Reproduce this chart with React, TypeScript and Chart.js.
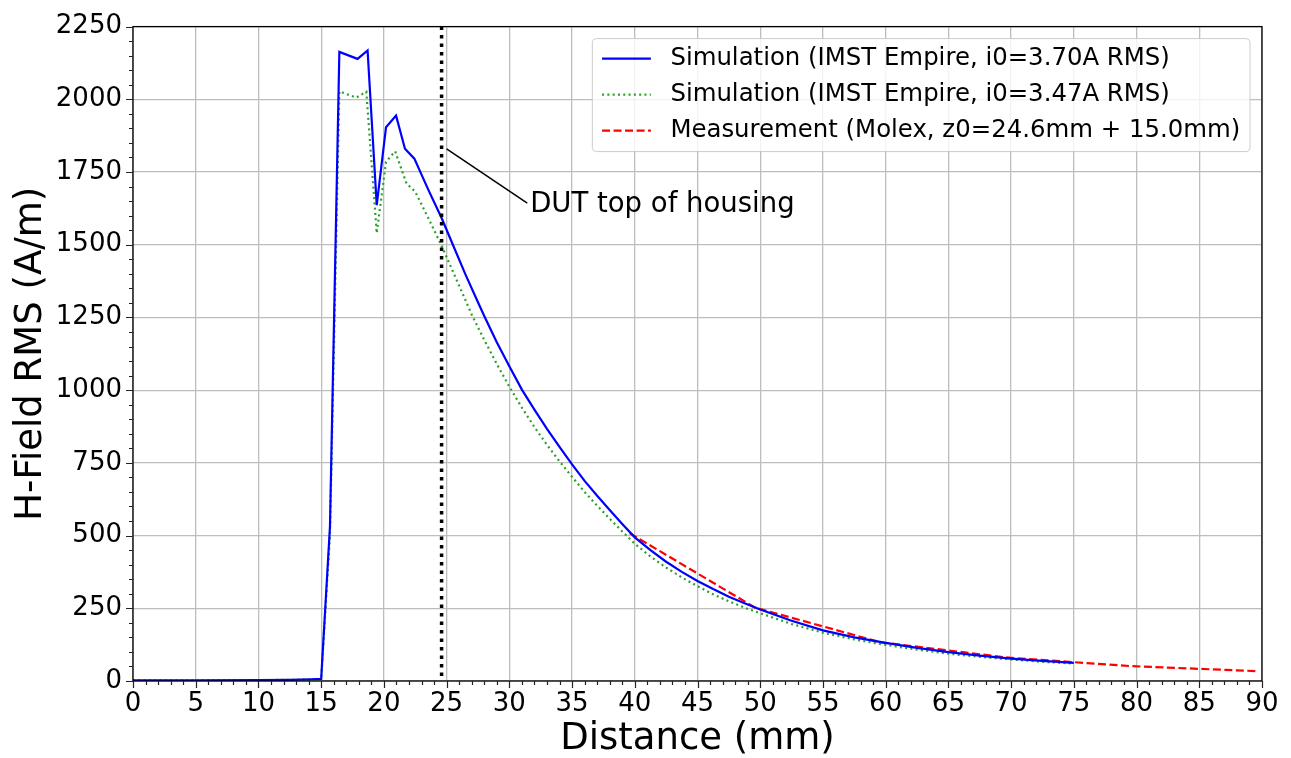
import React, { useEffect, useRef } from "react";
import { Chart, registerables } from "chart.js";

Chart.register(...registerables);

// ---------- data ----------
const sim370X = [0, 5, 10, 12.5, 14.2, 15.0, 15.7, 16.45, 17.9, 18.7, 19.43, 20.17, 20.97, 21.68, 22.43, 23.5, 24.6, 25.5, 26.5, 27.5, 28.0, 29, 30, 31, 32, 33, 34, 35, 36, 37, 38, 39, 40, 41.25, 42.5, 43.75, 45, 46.25, 47.5, 48.75, 50, 52.5, 55, 57.5, 60, 62.5, 65, 67.5, 70, 72.5, 75];
const sim370Y = [2, 2, 3, 4, 6, 7, 530, 2163, 2139, 2168, 1636, 1904, 1944, 1830, 1796, 1693, 1592, 1500, 1398, 1302, 1255, 1165, 1082, 1002, 933, 867, 805, 745, 688, 637, 588, 540, 494, 450, 410, 375, 344, 316, 290, 267, 246, 207, 174, 150, 131, 114, 99, 87, 77, 69, 62];

const sim347X = [0, 5, 10, 12.5, 14.2, 15.0, 15.7, 16.45, 17.8, 18.6, 19.43, 20.17, 20.9, 21.8, 22.5, 23.5, 24.6, 25.5, 26.5, 27, 28, 29, 30, 31, 32, 33, 34, 35, 36, 37, 38, 39, 40, 41.25, 42.5, 43.75, 45, 46.25, 47.5, 48.75, 50, 52.5, 55, 57.5, 60, 62.5, 65, 67.5, 70, 72.5, 75];
const sim347Y = [2, 2, 3, 4, 5, 6, 500, 2027, 2006, 2026, 1540, 1785, 1821, 1711, 1682, 1595, 1497, 1408, 1310, 1260, 1173, 1090, 1012, 940, 873, 812, 755, 702, 650, 603, 558, 514, 472, 428, 390, 356, 326, 298, 274, 252, 233, 196, 166, 143, 124, 108, 94, 83, 74, 66, 60];

const measX = [39.6, 49.6, 59.6, 69.6, 79.6, 89.6];
const measY = [508, 252, 133, 81, 51, 34];

const seriesLabels = [
  "Simulation (IMST Empire, i0=3.70A RMS)",
  "Simulation (IMST Empire, i0=3.47A RMS)",
  "Measurement (Molex, z0=24.6mm + 15.0mm)",
];

const xTickStep = 5;
const xMinorStep = 1;
const yTickStep = 250;
const yMinorStep = 50;
const xMin = 0, xMax = 90, yMin = 0, yMax = 2250;

const dutX = 24.6;
const annotText = "DUT top of housing";
const annotFrom = { x: 25.0, y: 1830 };
const annotTo = { x: 31.43, y: 1643 };
const annotTextPos = { x: 31.66, y: 1637 };

const xTitle = "Distance (mm)";
const yTitle = "H-Field RMS (A/m)";

const FONT = "'DejaVu Sans', sans-serif";
const BLUE = "#0000ff";
const GREEN = "#2ca02c";
const RED = "#ff0000";

const toPts = (xs: number[], ys: number[]) => xs.map((x, i) => ({ x, y: ys[i] }));

const overlayPlugin = {
  id: "overlay",
  afterDatasetsDraw(chart: any) {
    const { ctx, chartArea: ca, scales } = chart;
    const xs = scales.x, ys = scales.y;
    ctx.save();

    // vertical DUT line
    const vx = xs.getPixelForValue(dutX);
    ctx.strokeStyle = "#000";
    ctx.lineWidth = 3.5;
    ctx.setLineDash([3.5, 5]);
    ctx.beginPath();
    ctx.moveTo(vx, ca.top);
    ctx.lineTo(vx, ca.bottom);
    ctx.stroke();
    ctx.setLineDash([]);

    // annotation
    ctx.lineWidth = 1.5;
    ctx.beginPath();
    ctx.moveTo(xs.getPixelForValue(annotFrom.x), ys.getPixelForValue(annotFrom.y));
    ctx.lineTo(xs.getPixelForValue(annotTo.x), ys.getPixelForValue(annotTo.y));
    ctx.stroke();
    ctx.fillStyle = "#000";
    ctx.font = `27.5px ${FONT}`;
    ctx.textAlign = "left";
    ctx.textBaseline = "middle";
    ctx.fillText(annotText, xs.getPixelForValue(annotTextPos.x), ys.getPixelForValue(annotTextPos.y));

    // frame
    ctx.strokeStyle = "#000";
    ctx.lineWidth = 1.3;
    ctx.strokeRect(ca.left, ca.top, ca.right - ca.left, ca.bottom - ca.top);

    // ticks
    ctx.lineWidth = 1.2;
    ctx.strokeStyle = "#222";
    ctx.beginPath();
    for (let v = xMin; v <= xMax + 1e-6; v += xMinorStep) {
      const px = Math.round(xs.getPixelForValue(v)) + 0.5;
      const major = Math.abs(v / xTickStep - Math.round(v / xTickStep)) < 1e-6;
      ctx.moveTo(px, ca.bottom);
      ctx.lineTo(px, ca.bottom + (major ? 7 : 4));
    }
    for (let v = yMin; v <= yMax + 1e-6; v += yMinorStep) {
      const py = Math.round(ys.getPixelForValue(v)) + 0.5;
      const major = Math.abs(v / yTickStep - Math.round(v / yTickStep)) < 1e-6;
      ctx.moveTo(ca.left, py);
      ctx.lineTo(ca.left - (major ? 7 : 4), py);
    }
    ctx.stroke();

    // legend
    const fs = 24.4;
    ctx.font = `${fs}px ${FONT}`;
    const textW = Math.max(...seriesLabels.map((t) => ctx.measureText(t).width));
    const pad = 0.4 * fs, handle = 2 * fs, htpad = 0.8 * fs, rowH = 36;
    const boxW = pad + handle + htpad + textW + pad;
    const boxH = 113;
    const right = ca.right - 12, top = ca.top + 12;
    const left = right - boxW;
    ctx.beginPath();
    (ctx as any).roundRect(left, top, boxW, boxH, 4);
    ctx.fillStyle = "rgba(255,255,255,0.8)";
    ctx.fill();
    ctx.strokeStyle = "#cccccc";
    ctx.lineWidth = 1;
    ctx.stroke();
    const styles = [
      { c: BLUE, d: [] as number[] },
      { c: GREEN, d: [2, 3.3] },
      { c: RED, d: [8, 3.5] },
    ];
    seriesLabels.forEach((t, i) => {
      const cy = top + 20 + i * rowH;
      ctx.strokeStyle = styles[i].c;
      ctx.lineWidth = 2.2;
      ctx.setLineDash(styles[i].d);
      ctx.beginPath();
      ctx.moveTo(left + pad, cy);
      ctx.lineTo(left + pad + handle, cy);
      ctx.stroke();
      ctx.setLineDash([]);
      ctx.fillStyle = "#000";
      ctx.textAlign = "left";
      ctx.textBaseline = "middle";
      ctx.fillText(t, left + pad + handle + htpad, cy);
    });

    ctx.restore();
  },
};

export default function App() {
  const ref = useRef<HTMLCanvasElement | null>(null);
  useEffect(() => {
    if (!ref.current) return;
    const chart = new Chart(ref.current, {
      type: "line",
      data: {
        datasets: [
          {
            label: seriesLabels[0],
            data: toPts(sim370X, sim370Y),
            borderColor: BLUE,
            borderWidth: 2.2,
            pointRadius: 0,
            tension: 0,
          },
          {
            label: seriesLabels[1],
            data: toPts(sim347X, sim347Y),
            borderColor: GREEN,
            borderWidth: 2.2,
            borderDash: [2, 3.3],
            pointRadius: 0,
            tension: 0,
          },
          {
            label: seriesLabels[2],
            data: toPts(measX, measY),
            borderColor: RED,
            borderWidth: 2.2,
            borderDash: [8, 3.5],
            pointRadius: 0,
            tension: 0,
          },
        ],
      },
      options: {
        animation: false,
        responsive: false,
        events: [],
        layout: { padding: { top: 22, right: 29, left: 0, bottom: 0 } },
        plugins: { legend: { display: false }, tooltip: { enabled: false } },
        scales: {
          x: {
            type: "linear",
            min: xMin,
            max: xMax,
            afterFit: (s: any) => { s.height = 77; },
            ticks: {
              stepSize: xTickStep,
              padding: 8,
              color: "#000",
              font: { family: FONT, size: 26 },
              maxRotation: 0,
              autoSkip: false,
              callback: (v: any) => String(v),
            },
            grid: { color: "#bdbdbd", lineWidth: 1.3, drawTicks: false },
            border: { display: false },
            title: {
              display: true,
              text: xTitle,
              color: "#000",
              font: { family: FONT, size: 37, lineHeight: 1.0 },
              padding: { top: 0, bottom: 0 },
            },
          },
          y: {
            type: "linear",
            min: yMin,
            max: yMax,
            afterFit: (s: any) => { s.width = 133; },
            ticks: {
              stepSize: yTickStep,
              padding: 11,
              color: "#000",
              font: { family: FONT, size: 26 },
              callback: (v: any) => String(v),
            },
            grid: { color: "#bdbdbd", lineWidth: 1.3, drawTicks: false },
            border: { display: false },
            title: {
              display: true,
              text: yTitle,
              color: "#000",
              font: { family: FONT, size: 37, lineHeight: 1.2 },
              padding: { top: 9, bottom: 0 },
            },
          },
        },
      },
      plugins: [overlayPlugin],
    });
    return () => chart.destroy();
  }, []);
  return (
    <div style={{ position: "absolute", left: 0, top: 0, width: 1291, height: 758, background: "#fff" }}>
      <canvas ref={ref} width={1291} height={758} style={{ width: 1291, height: 758 }} />
    </div>
  );
}
